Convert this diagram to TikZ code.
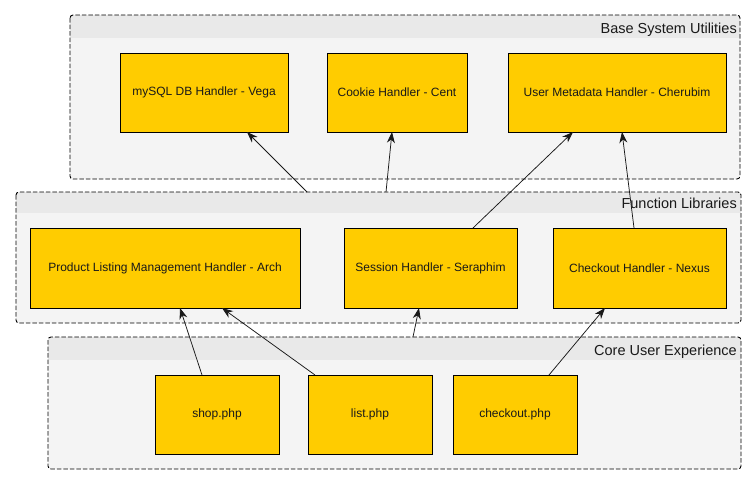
\documentclass[tikz,border=0pt]{standalone}
\usepackage{fontspec}
\setmainfont{Liberation Sans}
\usetikzlibrary{arrows.meta}
\definecolor{boxfill}{HTML}{FFCC00}
\definecolor{grpfill}{HTML}{F4F4F4}
\definecolor{grphdr}{HTML}{E9E9E9}
\tikzset{
  grp/.style={rectangle, inner sep=0pt, outer sep=0pt},
  grpborder/.style={draw=black, line width=0.9pt, dash pattern=on 4.5pt off 2pt, rounded corners=3pt},
  grptitle/.style={anchor=base east, inner sep=0pt, font=\fontsize{14.5}{16}\selectfont, text=black!90},
  box/.style={rectangle, draw=black, fill=boxfill, line width=1pt, inner sep=0pt, outer sep=0pt,
              font=\fontsize{12}{14}\selectfont, text=black!90},
  dep/.style={draw=black!90, line width=0.75pt, -{Stealth[length=11pt,width=8pt,inset=3.5pt]}}
}
\begin{document}
\begin{tikzpicture}[x=1pt,y=-1pt]
\useasboundingbox[fill=white] (0,0) rectangle (756,485);
% groups
\node[grp, minimum width=670pt, minimum height=164pt] (g1) at (405,97) {};
\node[grp, minimum width=725pt, minimum height=131pt] (g2) at (378.5,257.5) {};
\node[grp, minimum width=693pt, minimum height=132pt] (g3) at (394.5,403) {};
\foreach \g/\hb in {g1/23, g2/21, g3/23}{
  \fill[grpfill, rounded corners=3pt] (\g.north west) rectangle (\g.south east);
  \begin{scope}
    \clip[rounded corners=3pt] (\g.north west) rectangle (\g.south east);
    \fill[grphdr] (\g.north west) rectangle ([yshift=-\hb pt]\g.north east);
  \end{scope}
  \draw[grpborder] (\g.north west) rectangle (\g.south east);
}
\node[grptitle] (t1) at (737,33) {Base System Utilities};
\node[grptitle] (t2) at (737,208) {Function Libraries};
\node[grptitle] (t3) at (737,355) {Core User Experience};
% boxes
\node[box, minimum width=168pt, minimum height=79pt] (mysql) at (204,92.5) {mySQL DB Handler - Vega};
\node[box, minimum width=140pt, minimum height=79pt] (cookie) at (397,92.5) {Cookie Handler - Cent};
\node[box, minimum width=218pt, minimum height=79pt] (umeta) at (617,92.5) {User Metadata Handler - Cherubim};
\node[box, minimum width=270pt, minimum height=80pt] (prod) at (165,268) {Product Listing Management Handler - Arch};
\node[box, minimum width=173pt, minimum height=80pt] (sess) at (430.5,268) {Session Handler - Seraphim};
\node[box, minimum width=173pt, minimum height=80pt] (chkh) at (639.5,268) {Checkout Handler - Nexus};
\node[box, minimum width=124pt, minimum height=79pt] (shop) at (217,414.5) {shop.php};
\node[box, minimum width=124pt, minimum height=79pt] (list) at (370,414.5) {list.php};
\node[box, minimum width=124pt, minimum height=79pt] (chkp) at (515,414.5) {checkout.php};
% cluster-edge coordinates
\coordinate (c1) at ([xshift=-71.5pt]g2.north);
\coordinate (c2) at ([xshift=7.5pt]g2.north);
\coordinate (c3) at ([xshift=18.5pt]g3.north);
% connectors
\draw[dep] (c1) -- ([xshift=43pt]mysql.south);
\draw[dep] (c2) -- ([xshift=-5pt]cookie.south);
\draw[dep] ([xshift=42.5pt]sess.north) -- ([xshift=-44pt]umeta.south);
\draw[dep] ([xshift=-5.5pt]chkh.north) -- ([xshift=5pt]umeta.south);
\draw[dep] ([xshift=-15pt]shop.north) -- ([xshift=15pt]prod.south);
\draw[dep] ([xshift=-55pt]list.north) -- ([xshift=57pt]prod.south);
\draw[dep] (c3) -- ([xshift=-11.5pt]sess.south);
\draw[dep] ([xshift=34pt]chkp.north) -- ([xshift=-34.5pt]chkh.south);
\end{tikzpicture}
\end{document}
